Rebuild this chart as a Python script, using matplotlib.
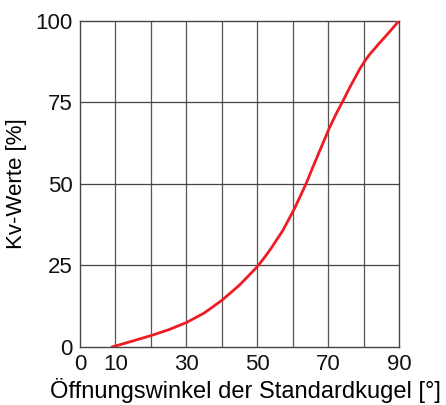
import matplotlib
matplotlib.use("Agg")
import matplotlib.pyplot as plt

plt.rcParams['font.family'] = ['Liberation Sans', 'DejaVu Sans']

# opening angle [deg] and Kv value [%]
angle = [9, 15, 20, 25, 30, 35, 40, 45, 50, 52, 54, 57.3, 60.3, 62.5, 63.9, 65.7,
         68.1, 70.4, 72.3, 74.2, 76.1, 78.9, 80.3, 81.7, 84.5, 87.3, 90]
kv = [0, 1.9, 3.5, 5.3, 7.5, 10.4, 14.3, 19.0, 24.6, 27.4, 30.4, 35.9, 42.0, 47.1, 50.4, 55.2,
      61.4, 67.3, 71.6, 75.5, 79.6, 85.2, 87.6, 89.7, 93.2, 96.6, 100]

xticks = [0, 10, 30, 50, 70, 90]
yticks = [0, 25, 50, 75, 100]

fig = plt.figure(figsize=(4.46, 4.05), dpi=100)
ax = fig.add_axes([0.179, 0.143, 0.716, 0.806])

# grid: every 10 deg vertically, every 25 % horizontally
for gx in range(10, 90, 10):
    ax.axvline(gx, color='#555555', lw=0.9, zorder=1)
for gy in yticks[1:-1]:
    ax.axhline(gy, color='#444444', lw=0.9, zorder=1)

ax.plot(angle, kv, color='#ee1c25', lw=2.0, zorder=3,
        solid_capstyle='round', solid_joinstyle='round')

ax.set_xlim(0, 90)
ax.set_ylim(0, 100)
ax.set_xticks(xticks)
ax.set_yticks(yticks)
ax.tick_params(length=0, labelsize=16, colors='#111111')
ax.tick_params(axis='x', pad=5)
ax.tick_params(axis='y', pad=5)
for s in ax.spines.values():
    s.set_color('#444444')
    s.set_linewidth(1.0)

ax.set_xlabel('Öffnungswinkel der Standardkugel [°]', fontsize=17, labelpad=4)
ax.xaxis.set_label_coords(0.52, -0.095)
ax.set_ylabel('Kv-Werte [%]', fontsize=16, labelpad=6)

fig.savefig('out.png', dpi=100)
